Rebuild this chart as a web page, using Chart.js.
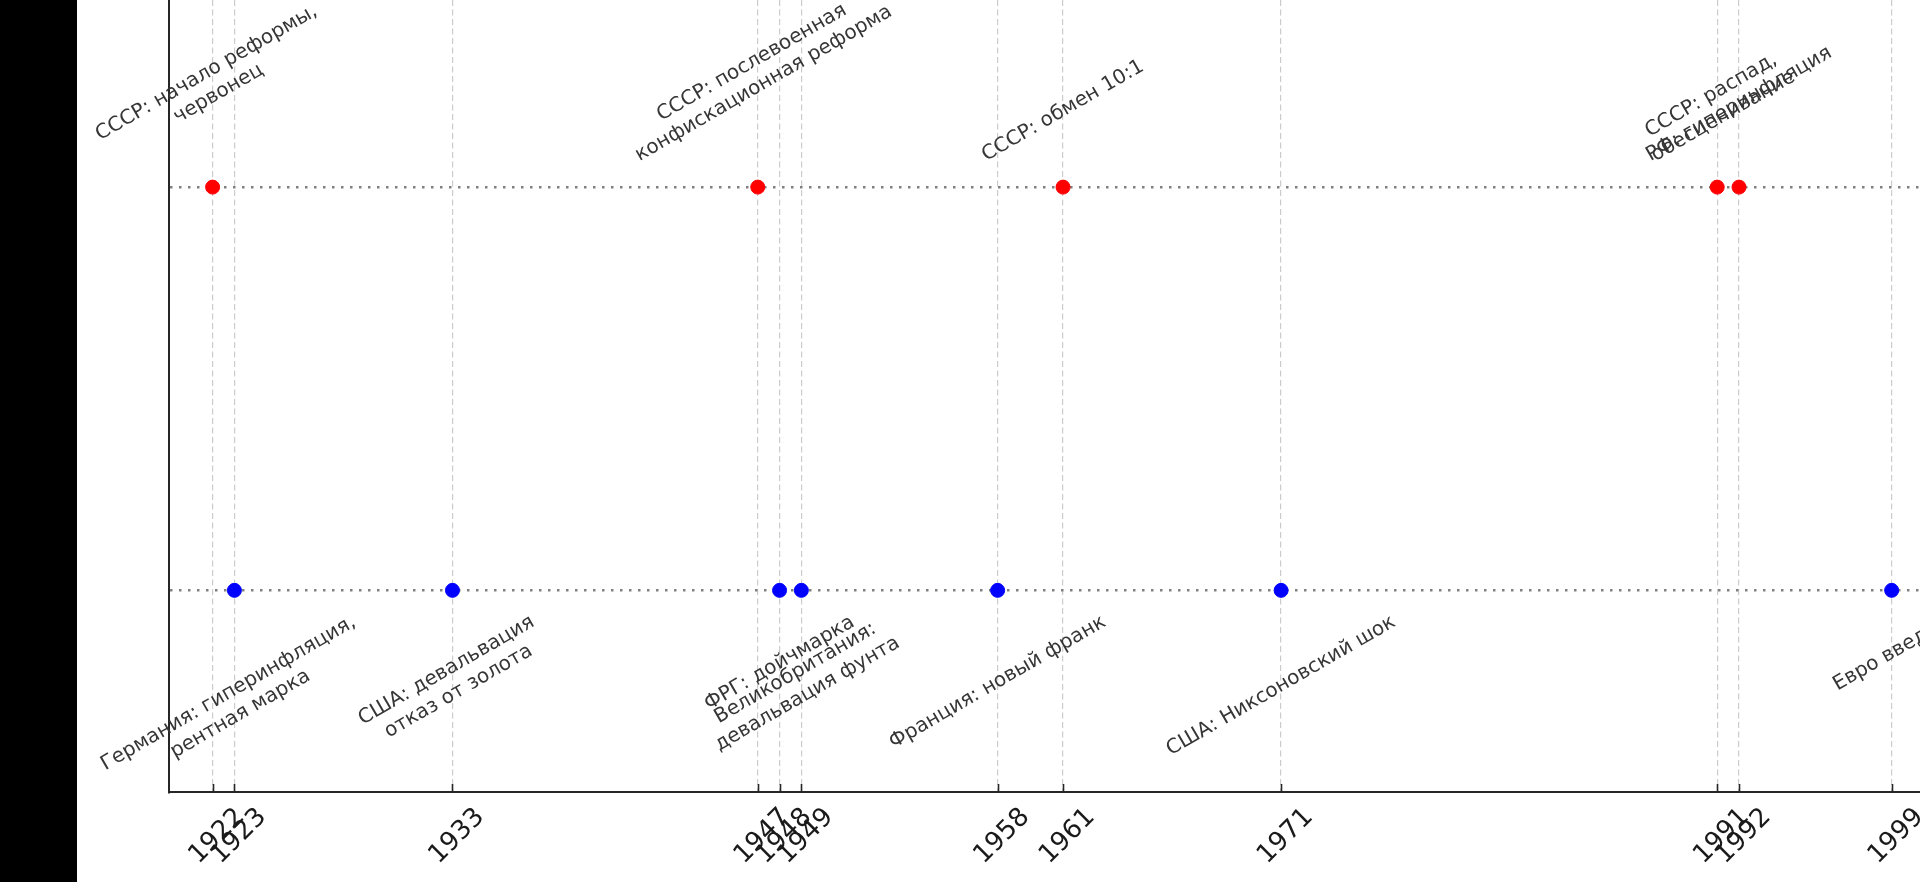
<!DOCTYPE html>
<html>
<head>
<meta charset="utf-8">
<script src="https://cdn.jsdelivr.net/npm/chart.js@4"></script>
<style>
  html, body { margin: 0; padding: 0; background: #000; overflow: hidden; }
  #wrap { position: absolute; left: 77px; top: 0; width: 1843px; height: 882px; background: #fff; }
</style>
</head>
<body>
<div id="wrap"><canvas id="timeline" width="1843" height="882"></canvas></div>
<script>
// Events in the USSR / Russia (upper row)
const ussrYears = [1922, 1947, 1961, 1991, 1992];
const ussrNotes = [
    'СССР: начало реформы,\nчервонец',
    'СССР: послевоенная\nконфискационная реформа',
    'СССР: обмен 10:1',
    'СССР: распад,\nобесценивание',
    'РФ: гиперинфляция'
];

// Events elsewhere (lower row)
const worldYears = [1923, 1933, 1948, 1949, 1958, 1971, 1999];
const worldNotes = [
    'Германия: гиперинфляция,\nрентная марка',
    'США: девальвация\nотказ от золота',
    'ФРГ: дойчмарка',
    'Великобритания:\nдевальвация фунта',
    'Франция: новый франк',
    'США: Никсоновский шок',
    'Евро введён'
];

const tickYears = [1922, 1923, 1933, 1947, 1948, 1949, 1958, 1961, 1971, 1991, 1992, 1999];
const rowValues = [0, 1];

const FONT = '"DejaVu Sans", sans-serif';
const NOTE_SIZE = 20;
const NOTE_GAP = 20;

// rotated notes next to each point, like matplotlib text with rotation=30
const eventNotes = {
    id: 'eventNotes',
    afterDatasetsDraw(chart) {
        const ctx = chart.ctx;
        const xs = chart.scales.x, ys = chart.scales.y;
        const ang = 30 * Math.PI / 180;
        const lh = NOTE_SIZE * 1.2;
        ctx.save();
        ctx.font = NOTE_SIZE + 'px ' + FONT;
        ctx.fillStyle = '#363636';
        ctx.textAlign = 'center';
        ctx.textBaseline = 'middle';
        chart.data.datasets.forEach(ds => {
            ds.data.forEach((p, i) => {
                const lines = ds.notes[i].split('\n');
                const w = Math.max(...lines.map(l => ctx.measureText(l).width));
                const h = lines.length * lh;
                const bh = w * Math.sin(ang) + h * Math.cos(ang);
                const px = xs.getPixelForValue(p.x);
                const py = ys.getPixelForValue(p.y);
                const cy = ds.above ? py - NOTE_GAP - bh / 2 : py + NOTE_GAP + bh / 2;
                ctx.save();
                ctx.translate(px, cy);
                ctx.rotate(-ang);
                lines.forEach((l, k) => ctx.fillText(l, 0, (k - (lines.length - 1) / 2) * lh));
                ctx.restore();
            });
        });
        ctx.restore();
    }
};

// short inward tick marks on the x axis
const innerTicks = {
    id: 'innerTicks',
    afterDatasetsDraw(chart) {
        const ctx = chart.ctx;
        const xs = chart.scales.x;
        const bottom = chart.chartArea.bottom;
        ctx.save();
        ctx.strokeStyle = '#262626';
        ctx.lineWidth = 1.6;
        xs.ticks.forEach(t => {
            const x = Math.round(xs.getPixelForValue(t.value)) + 0.5;
            ctx.beginPath();
            ctx.moveTo(x, bottom);
            ctx.lineTo(x, bottom - 8);
            ctx.stroke();
        });
        ctx.restore();
    }
};

new Chart(document.getElementById('timeline').getContext('2d'), {
    type: 'scatter',
    data: {
        datasets: [{
            label: 'СССР / Россия',
            data: ussrYears.map(y => ({ x: y, y: 1 })),
            notes: ussrNotes,
            above: true,
            backgroundColor: '#ff0000',
            borderColor: '#ff0000',
            pointRadius: 7,
            pointHoverRadius: 7
        }, {
            label: 'Мир',
            data: worldYears.map(y => ({ x: y, y: 0 })),
            notes: worldNotes,
            above: false,
            backgroundColor: '#0000ff',
            borderColor: '#0000ff',
            pointRadius: 7,
            pointHoverRadius: 7
        }]
    },
    options: {
        responsive: false,
        animation: false,
        devicePixelRatio: 1,
        layout: { padding: 0, autoPadding: false },
        plugins: {
            legend: { display: false },
            tooltip: { enabled: false }
        },
        scales: {
            x: {
                type: 'linear',
                min: 1920,
                max: 2000.3,
                afterBuildTicks: s => { s.ticks = tickYears.map(v => ({ value: v })); },
                afterFit: s => { s.height = 90; s.paddingLeft = 0; s.paddingRight = 0; },
                ticks: {
                    autoSkip: false,
                    maxRotation: 45,
                    minRotation: 45,
                    labelOffset: 28,
                    padding: 10,
                    color: '#1a1a1a',
                    font: { family: FONT, size: 26 },
                    callback: v => String(v)
                },
                grid: {
                    color: '#cccccc',
                    lineWidth: 1.2,
                    drawTicks: false
                },
                border: { display: true, color: '#262626', width: 2, dash: [6, 3.5] }
            },
            y: {
                type: 'linear',
                min: -0.5,
                max: 1.464,
                afterBuildTicks: s => { s.ticks = rowValues.map(v => ({ value: v })); },
                afterFit: s => { s.width = 92; s.paddingTop = 0; s.paddingBottom = 0; },
                ticks: { display: false },
                grid: {
                    color: '#808080',
                    lineWidth: 2.5,
                    drawTicks: false
                },
                border: { display: true, color: '#262626', width: 2, dash: [2.5, 6.5] }
            }
        }
    },
    plugins: [eventNotes, innerTicks]
});
</script>
</body>
</html>
